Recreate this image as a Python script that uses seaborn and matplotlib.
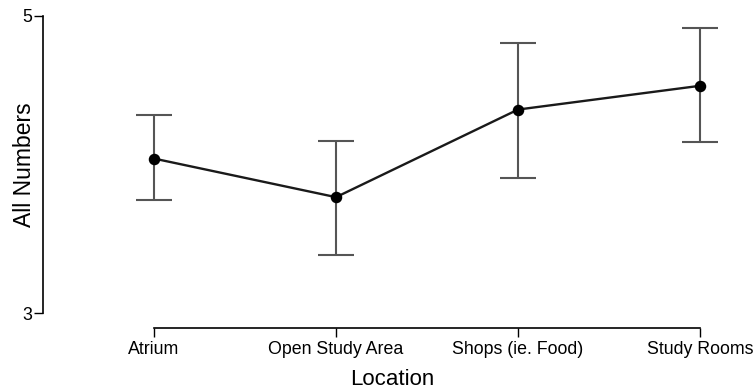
import matplotlib
matplotlib.use("Agg")
import matplotlib.pyplot as plt
import seaborn as sns
import pandas as pd

locations = ["Atrium", "Open Study Area", "Shops (ie. Food)", "Study Rooms"]
means = [4.04, 3.78, 4.37, 4.53]
err_low = [3.76, 3.39, 3.91, 4.15]
err_high = [4.33, 4.16, 4.82, 4.92]
y_ticks = [3, 5]

sns.set_theme(style="ticks")
plt.rcParams["font.family"] = ["Liberation Sans", "DejaVu Sans"]

df = pd.DataFrame({"Location": locations, "All Numbers": means})

fig = plt.figure(figsize=(7.56, 3.90), dpi=100)
W, H = 756, 390
left, right, top, bottom = 43, 742, 16, 313
ax = fig.add_axes([left / W, 1 - bottom / H, (right - left) / W, (bottom - top) / H])

xs = list(range(len(locations)))
yerr = [[m - lo for m, lo in zip(means, err_low)], [hi - m for m, hi in zip(means, err_high)]]
ax.errorbar(xs, means, yerr=yerr, fmt="none", ecolor="#555555", elinewidth=1.5,
            capsize=13, capthick=1.5, zorder=1)

sns.pointplot(data=df, x="Location", y="All Numbers", errorbar=None, color="#1a1a1a",
              markers="o", markersize=7, linewidth=1.7, ax=ax, zorder=3)
for line in ax.lines[-1:]:
    line.set_markerfacecolor("black")
    line.set_markeredgecolor("black")

ax.set_ylim(3, 5)
ax.set_yticks(y_ticks)
ax.set_yticklabels([str(t) for t in y_ticks])
px = 182.0
ax.set_xlim(0 - (154 - left) / px, 3 + (right - 700) / px)

for s in ["top", "right"]:
    ax.spines[s].set_visible(False)
ax.spines["bottom"].set_bounds(0, 3)
ax.spines["bottom"].set_position(("outward", 10.6))
ax.spines["left"].set_bounds(3, 5)
for s in ["left", "bottom"]:
    ax.spines[s].set_linewidth(1.2)
    ax.spines[s].set_color("black")

ax.tick_params(axis="both", which="major", length=6.5, width=1.0, color="black",
               labelsize=12.8, labelcolor="black")
ax.tick_params(axis="x", pad=3)
ax.tick_params(axis="y", pad=1.5)
ax.set_xlabel("Location", fontsize=16, color="black")
ax.set_ylabel("All Numbers", fontsize=16.5, color="black")
ax.xaxis.set_label_coords(0.5, -(369 - bottom) / (bottom - top))
ax.yaxis.set_label_coords(-(43 - 36) / (right - left), 0.5)

fig.savefig("out.png", dpi=100)
